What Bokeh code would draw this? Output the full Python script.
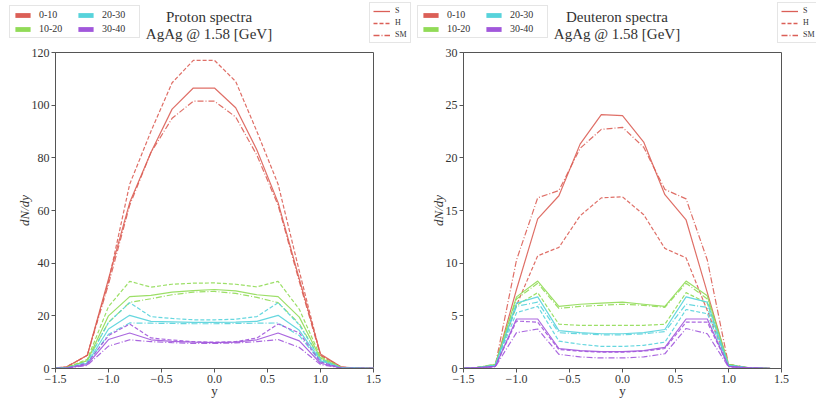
from bokeh.plotting import figure
from bokeh.layouts import row, column
from bokeh.models import Range1d, FixedTicker, Legend, LegendItem, Label
from bokeh.embed import file_html
from bokeh.resources import INLINE

# ---------------- data ----------------
y_bins = [-1.6, -1.4, -1.2, -1.0, -0.8, -0.6, -0.4, -0.2, 0.0, 0.2, 0.4, 0.6, 0.8, 1.0, 1.2, 1.4, 1.6]
centralities = ["0-10", "10-20", "20-30", "30-40"]
models = ["S", "H", "SM"]

# Proton dN/dy
p_S_0_10 = [0, 0.5, 5.0, 34, 63, 82, 98.5, 106.5, 106.5, 99, 83, 63, 34, 5.5, 0.5, 0.1, 0]
p_H_0_10 = [0, 0.5, 5.0, 33, 70, 90, 108.5, 117, 117, 109, 90, 70, 37, 5.0, 0.5, 0.1, 0]
p_SM_0_10 = [0, 0.5, 5.0, 32, 62, 82, 95, 101.5, 101.5, 95.5, 81, 62, 33, 5.0, 0.4, 0.1, 0]
p_S_10_20 = [0, 0.3, 3.0, 20, 27.3, 27.8, 29, 29.6, 30, 29.5, 28, 27.3, 19.5, 4.0, 0.3, 0.1, 0]
p_H_10_20 = [0, 0.3, 3.5, 23.5, 33.1, 30.9, 32, 32.4, 32.5, 32, 31, 33.1, 22.5, 4.5, 0.3, 0.1, 0]
p_SM_10_20 = [0, 0.3, 3.0, 17.5, 25.1, 26.5, 28, 29, 29.3, 28.5, 27, 25, 17, 3.5, 0.3, 0.1, 0]
p_S_20_30 = [0, 0.2, 2.0, 15, 20.2, 17.9, 17.7, 17.5, 17.5, 17.6, 17.9, 20.2, 14.5, 3.0, 0.2, 0.1, 0]
p_H_20_30 = [0, 0.2, 2.5, 17.5, 25, 19.7, 19, 18.5, 18.5, 18.7, 19.7, 25, 16.5, 3.5, 0.2, 0.1, 0]
p_SM_20_30 = [0, 0.2, 1.8, 13, 17.3, 17.2, 17.1, 17, 17, 17.1, 17.2, 17.3, 12.5, 2.5, 0.2, 0.1, 0]
p_S_30_40 = [0, 0.1, 1.5, 11, 13.5, 10.9, 10.3, 10, 9.8, 10, 10.9, 13.5, 10.5, 2.0, 0.1, 0.05, 0]
p_H_30_40 = [0, 0.1, 2.0, 12.5, 16.9, 11.6, 10.8, 10.2, 10, 10.2, 11.6, 16.9, 13.5, 2.5, 0.1, 0.05, 0]
p_SM_30_40 = [0, 0.1, 1.2, 8.5, 10.9, 10.2, 9.8, 9.5, 9.5, 9.7, 10.2, 11, 8, 1.5, 0.1, 0.05, 0]

# Deuteron dN/dy
d_S_0_10 = [0, 0.05, 0.3, 7.5, 14.2, 16.4, 21.3, 24.1, 24.0, 21.5, 16.5, 14.1, 7.2, 0.3, 0.05, 0, 0]
d_H_0_10 = [0, 0.05, 0.3, 6.0, 10.7, 11.5, 14.5, 16.2, 16.3, 14.6, 11.4, 10.5, 5.5, 0.3, 0.05, 0, 0]
d_SM_0_10 = [0, 0.05, 0.3, 10.3, 16.2, 16.9, 20.9, 22.7, 22.9, 21.0, 17.0, 16.1, 10.3, 0.4, 0.05, 0, 0]
d_S_10_20 = [0, 0.05, 0.4, 6.8, 8.3, 5.9, 6.1, 6.2, 6.3, 6.1, 5.9, 8.3, 6.9, 0.4, 0.05, 0, 0]
d_H_10_20 = [0, 0.05, 0.3, 6.0, 7.2, 4.2, 4.1, 4.1, 4.1, 4.1, 4.2, 7.2, 6.2, 0.3, 0.05, 0, 0]
d_SM_10_20 = [0, 0.05, 0.4, 6.6, 8.1, 5.7, 5.9, 6.0, 6.1, 6.0, 5.8, 8.1, 6.6, 0.4, 0.05, 0, 0]
d_S_20_30 = [0, 0.05, 0.3, 6.2, 6.8, 3.6, 3.4, 3.3, 3.3, 3.4, 3.7, 6.8, 6.3, 0.3, 0.05, 0, 0]
d_H_20_30 = [0, 0.05, 0.3, 5.3, 5.9, 2.6, 2.3, 2.1, 2.1, 2.2, 2.5, 5.6, 5.2, 0.3, 0.05, 0, 0]
d_SM_20_30 = [0, 0.05, 0.3, 5.9, 6.3, 3.4, 3.3, 3.2, 3.2, 3.3, 3.5, 6.1, 5.8, 0.3, 0.05, 0, 0]
d_S_30_40 = [0, 0.05, 0.2, 4.7, 4.7, 1.9, 1.7, 1.6, 1.6, 1.7, 2.0, 4.7, 4.7, 0.2, 0.05, 0, 0]
d_H_30_40 = [0, 0.05, 0.2, 4.5, 4.4, 1.8, 1.65, 1.55, 1.55, 1.65, 1.9, 4.4, 4.4, 0.2, 0.05, 0, 0]
d_SM_30_40 = [0, 0.05, 0.15, 3.4, 3.75, 1.35, 1.1, 1.0, 1.0, 1.1, 1.4, 3.8, 3.3, 0.15, 0.05, 0, 0]

x_ticks = [-1.5, -1.0, -0.5, 0.0, 0.5, 1.0, 1.5]
x_tick_labels = ["\u22121.5", "\u22121.0", "\u22120.5", "0.0", "0.5", "1.0", "1.5"]
p_y_ticks = [0, 20, 40, 60, 80, 100, 120]
d_y_ticks = [0, 5, 10, 15, 20, 25, 30]
titles = [["Proton spectra", "AgAg @ 1.58 [GeV]"], ["Deuteron spectra", "AgAg @ 1.58 [GeV]"]]

proton = {
    "0-10": [p_S_0_10, p_H_0_10, p_SM_0_10],
    "10-20": [p_S_10_20, p_H_10_20, p_SM_10_20],
    "20-30": [p_S_20_30, p_H_20_30, p_SM_20_30],
    "30-40": [p_S_30_40, p_H_30_40, p_SM_30_40],
}
deuteron = {
    "0-10": [d_S_0_10, d_H_0_10, d_SM_0_10],
    "10-20": [d_S_10_20, d_H_10_20, d_SM_10_20],
    "20-30": [d_S_20_30, d_H_20_30, d_SM_20_30],
    "30-40": [d_S_30_40, d_H_30_40, d_SM_30_40],
}
panels_data = [proton, deuteron]

# ---------------- style ----------------
colors = ["#db5f57", "#91db57", "#57d3db", "#a157db"]
dashes = ["solid", "4 2", "6 2 1 2"]
SERIF = "Liberation Serif"
AXC = "#555555"
TXT = "#333333"
W, H_HEAD, H_MAIN = 408, 44, 366


def make_header():
    h = figure(width=2 * W, height=H_HEAD, output_backend="svg", toolbar_location=None,
               x_range=Range1d(0, 2 * W), y_range=Range1d(0, H_HEAD),
               min_border=0, outline_line_color=None)
    h.axis.visible = False
    h.grid.visible = False
    h.background_fill_color = "white"
    h.border_fill_color = "white"

    for k, lines in enumerate(titles):
        off = k * W
        data = panels_data[k]
        h.add_layout(Label(x=off + 208.5, y=H_HEAD - 16, text=lines[0], text_align="center",
                           text_baseline="middle", text_font=SERIF, text_font_size="15px",
                           text_color=TXT))
        h.add_layout(Label(x=off + 208.5, y=H_HEAD - 33, text=lines[1], text_align="center",
                           text_baseline="middle", text_font=SERIF, text_font_size="15px",
                           text_color=TXT))

        # legend proxies (hidden renderers built from the series themselves)
        cent_items = []
        for c, cent in zip(colors, centralities):
            r = h.varea(x=y_bins, y1=0, y2=data[cent][0], fill_color=c, visible=False)
            cent_items.append(LegendItem(label=cent, renderers=[r]))
        leg1 = Legend(items=cent_items, location=(off + 9, 6), ncols=2,
                      label_text_font=SERIF, label_text_font_size="10px", label_text_color=TXT,
                      glyph_width=19, glyph_height=6, label_height=10, label_width=34, spacing=3,
                      padding=3, margin=0, label_standoff=7,
                      inactive_fill_alpha=0.0,
                      border_line_color="#cccccc", background_fill_alpha=1.0)
        h.add_layout(leg1)

        mod_items = []
        for m, arr, dash in zip(models, data["0-10"], dashes):
            r = h.line(y_bins, arr, line_color=colors[0], line_width=1.3, line_dash=dash,
                       visible=False)
            mod_items.append(LegendItem(label=m, renderers=[r]))
        leg2 = Legend(items=mod_items, location=(off + 369, 1),
                      label_text_font=SERIF, label_text_font_size="8px", label_text_color=TXT,
                      glyph_width=17, glyph_height=8, label_height=8, label_width=10, spacing=3,
                      padding=3, margin=0, label_standoff=5,
                      inactive_fill_alpha=0.0,
                      border_line_color="#cccccc", background_fill_alpha=1.0)
        h.add_layout(leg2)
    return h


def make_panel(data, ymax, yticks):
    p = figure(width=W, height=H_MAIN, output_backend="svg", toolbar_location=None,
               x_range=Range1d(-1.5, 1.5), y_range=Range1d(0, ymax),
               min_border_left=55, min_border_right=35, min_border_top=8, min_border_bottom=42)
    p.background_fill_color = "white"
    p.border_fill_color = "white"
    p.outline_line_color = AXC
    p.outline_line_width = 1
    p.grid.visible = False

    for ax in (p.xaxis[0], p.yaxis[0]):
        ax.axis_line_color = AXC
        ax.major_tick_line_color = AXC
        ax.minor_tick_line_color = None
        ax.major_tick_out = 4
        ax.major_tick_in = 0
        ax.major_label_text_font = SERIF
        ax.major_label_text_font_size = "12px"
        ax.major_label_text_color = TXT
        ax.major_label_standoff = 2
        ax.axis_label_text_font = SERIF
        ax.axis_label_text_font_size = "13px"
        ax.axis_label_text_color = TXT
        ax.axis_label_text_font_style = "normal"
    p.xaxis.ticker = FixedTicker(ticks=x_ticks)
    p.xaxis.major_label_overrides = {t: l for t, l in zip(x_ticks, x_tick_labels)}
    p.yaxis.ticker = FixedTicker(ticks=yticks)
    p.xaxis.axis_label = "y"
    p.xaxis.axis_label_standoff = -3
    p.yaxis.axis_label = "dN/dy"
    p.yaxis.axis_label_text_font_style = "italic"
    p.yaxis.axis_label_standoff = -3

    for c, cent in zip(colors, centralities):
        for arr, dash in zip(data[cent], dashes):
            p.line(y_bins, arr, line_color=c, line_width=1.2, line_dash=dash, line_alpha=0.9)
    return p


layout = column(make_header(),
                row(make_panel(proton, 120, p_y_ticks), make_panel(deuteron, 30, d_y_ticks), spacing=0),
                spacing=0)
open("out.html", "w").write(file_html(layout, INLINE))
